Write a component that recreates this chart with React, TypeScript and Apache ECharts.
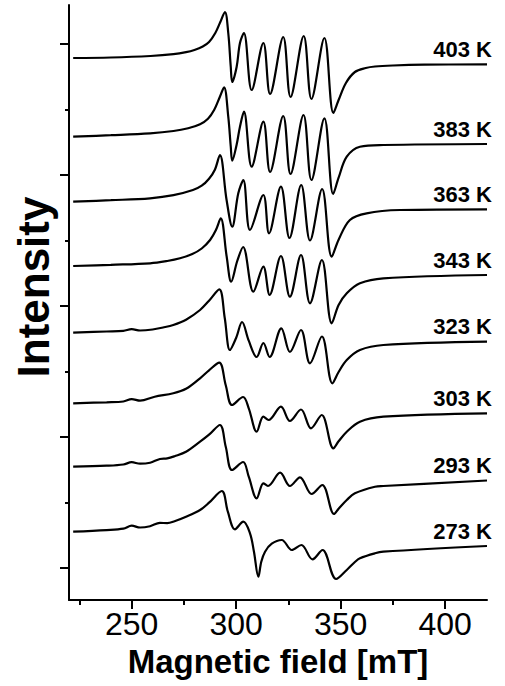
import React, { useEffect, useRef } from 'react';
import * as echarts from 'echarts';

const FONT = '"Liberation Sans", Arial, Helvetica, sans-serif';

// Temperatures, top trace first
const temperatures = ['403 K', '383 K', '363 K', '343 K', '323 K', '303 K', '293 K', '273 K'];

// Vertical stacking offset of each spectrum (same units as the y axis)
const offsets = [542, 463.3, 398.3, 334, 267.3, 196.7, 133.3, 68.3];

// Each spectrum: [magnetic field (mT), derivative intensity (a.u.)]
const spec403: [number, number][] = [
  [222, 0], [240, 0.5], [259, 2], [270, 3.8], [276, 5.8], [280, 8], [284, 11.5], [287, 16],
  [290, 25], [292.4, 36], [294.6, 46], [296.2, 25], [297.4, -9], [298.1, -24], [300.2, -9],
  [301.8, 15], [303.7, 25], [307.4, -32], [313, 15], [316.2, -36], [322.5, 21], [326, -39],
  [332.3, 22], [336, -41], [342.2, 20], [346.5, -55], [349, -42], [352.5, -25], [356.8, -14],
  [362, -10], [366.4, -8.5], [375, -7.5], [390, -6.7], [420, -6.3],
];
const spec383: [number, number][] = [
  [222, 0], [240, 1.5], [258.8, 3.4], [270, 5.7], [277, 8.5], [282.7, 12.5], [286.5, 18],
  [289.5, 27], [292.2, 40], [294.2, 49.4], [296.2, 20], [297.4, -10], [298.1, -24], [300.2, -8],
  [301.8, 10], [303.7, 25], [307.4, -30], [313, 15], [316.2, -35.3], [322.5, 20.7],
  [326, -37.3], [332.2, 21.7], [336, -43.3], [342.2, 18.4], [346.4, -57.3], [349, -41],
  [352.9, -20], [359.2, -10], [370.4, -8.3], [420, -7.3],
];
const spec363: [number, number][] = [
  [222, 0], [240, 1.5], [258.8, 3.4], [270, 6.5], [279.3, 11.7], [283.5, 16], [287, 23],
  [289.8, 32], [292.2, 46.7], [295.4, 1.7], [298.1, -25], [301, 8.4], [303.4, 21.7],
  [306.6, -28.3], [313, 6.7], [315.7, -31.6], [321.4, 15], [325.5, -36.3], [331.1, 16.7],
  [335.3, -38.8], [341.1, 12.7], [345.7, -55], [349, -38], [354.4, -18.3], [362.4, -11.6],
  [378.4, -8.3], [420, -7.6],
];
const spec343: [number, number][] = [
  [222, 0], [240, 1.2], [258.8, 2.7], [267, 5], [273.1, 7.7], [279, 12], [283.5, 17.5],
  [287.5, 26], [290.3, 36], [292.6, 47.7], [295.4, 10], [297.6, -15.7], [300.5, 5], [303.3, 19],
  [308.2, -25.7], [313, -0.7], [316, -29], [321.4, 10], [325.7, -30.7], [331, 11],
  [335.3, -37.3], [341, 6], [345.7, -57.3], [349, -39], [352.9, -27.3], [359.2, -17.3],
  [370.4, -12.3], [420, -9],
];
const spec323: [number, number][] = [
  [222, 0], [238, 1.2], [246, 1.8], [250, 3.5], [254, 2.2], [260, 3.2], [265, 5.2],
  [269.9, 7.7], [276, 13], [282.7, 22.7], [287, 32], [291.9, 43.4], [294.5, 15], [297, -17.3],
  [300, -5], [302.8, 10.7], [306, -8], [309.8, -24.3], [313, -10.3], [316, -24.3], [321.6, 4.4],
  [325.7, -19.3], [331, 2.7], [335.3, -30.6], [341, -3.8], [346, -50.6], [349, -39.3],
  [352.9, -27.3], [359.2, -17.3], [370.4, -12.3], [420, -9],
];
const spec303: [number, number][] = [
  [222, 0], [238, 1], [246, 1.8], [250, 4.2], [254, 2.6], [261, 6.6], [269.9, 10],
  [276, 14.5], [282.7, 25], [287, 33], [291.9, 40.6], [295, 18], [298, -1.7], [303.3, 6.3],
  [306, -5], [309.8, -28.4], [313, -13.4], [315.5, -16.7], [321.4, -3.4], [325.7, -17.7],
  [331, -6.2], [335.8, -25], [340.9, -11.7], [346.5, -45], [349, -38], [352.9, -28.4],
  [359.2, -18.4], [370.4, -13.4], [420, -10],
];
const spec293: [number, number][] = [
  [222, 0], [238, 1], [246, 2.2], [250, 4.5], [254, 3], [258.8, 4], [263.5, 7.7], [267, 8.3],
  [270.5, 10.5], [276, 15], [282.7, 25], [287, 32], [292.2, 41.7], [295, 20], [298, -3.3],
  [303.3, 4.7], [306, -10], [309.8, -31.6], [313, -16.6], [315.2, -19.3], [321, -6],
  [325.7, -19.3], [330.5, -10.6], [336.1, -27.3], [341.2, -18.3], [346.8, -47.3], [349, -42],
  [352.9, -33.3], [356.8, -26.6], [366.4, -20], [370.4, -19.3], [420, -13.8],
];
const spec273: [number, number][] = [
  [222, 0], [238, 1.6], [246, 3], [250, 6], [254, 4.2], [258.8, 5.5], [263.5, 8.8],
  [267, 8.6], [270.5, 10.5], [276, 15], [282.7, 21.7], [287, 29], [293.1, 40.7], [296, 20],
  [299.4, 2.4], [303.4, 10], [306.6, -1.6], [308.5, -20], [310.6, -45], [312, -30],
  [313.8, -20], [317, -12], [321.8, -8.3], [326.6, -18.3], [331.2, -13.3], [336.5, -27.6],
  [341.3, -18.3], [347.8, -47.3], [352.9, -38.3], [356.8, -30.3], [359.2, -26.6],
  [366.4, -21.6], [370.4, -20], [420, -14.3],
];

const spectra = [spec403, spec383, spec363, spec343, spec323, spec303, spec293, spec273];

// Axis ranges and tick positions
const xRange = [220, 420];
const yRange = [0, 595];
const xMajorTicks = [250, 300, 350, 400];
const xMinorTicks = [225, 275, 325, 375];
const yMajorTicks = [32, 163, 294, 425, 556];
const yMinorTicks = [97.5, 228.5, 359.5, 490.5];

const AXIS_COLOR = '#000';

export default function App() {
  const ref = useRef<HTMLDivElement>(null);

  useEffect(() => {
    document.body.style.margin = '0';
    const chart = echarts.init(ref.current!, null, { renderer: 'svg' });

    const series = spectra.map((pts, i) => ({
      type: 'line',
      name: temperatures[i],
      xAxisIndex: 0,
      yAxisIndex: 0,
      data: pts.map(([b, v]) => [b, offsets[i] + v]),
      smooth: 0.35,
      symbol: 'none',
      silent: true,
      lineStyle: { color: '#000', width: 2.2 },
    }));

    const baseAxisX = {
      type: 'value',
      min: xRange[0],
      max: xRange[1],
      position: 'bottom',
      splitLine: { show: false },
    };
    const baseAxisY = {
      type: 'value',
      min: yRange[0],
      max: yRange[1],
      position: 'left',
      splitLine: { show: false },
      axisLabel: { show: false },
    };

    const staticGraphics = [
      {
        type: 'text',
        x: 33,
        y: 287,
        rotation: Math.PI / 2,
        style: {
          text: 'Intensity',
          fill: '#000',
          fontSize: 44,
          fontWeight: 'bold',
          fontFamily: FONT,
          align: 'center',
          verticalAlign: 'middle',
        },
      },
      {
        type: 'text',
        x: 278,
        y: 661,
        style: {
          text: 'Magnetic field [mT]',
          fill: '#000',
          fontSize: 33,
          fontWeight: 'bold',
          fontFamily: FONT,
          align: 'center',
          verticalAlign: 'middle',
        },
      },
    ];

    chart.setOption({
      animation: false,
      backgroundColor: '#fff',
      grid: { left: 69, right: 18, top: 5, bottom: 86 },
      xAxis: [
        {
          ...baseAxisX,
          axisLine: { show: true, lineStyle: { color: AXIS_COLOR, width: 2 } },
          axisTick: { show: true, customValues: xMajorTicks, length: 9, lineStyle: { color: AXIS_COLOR, width: 2 } },
          axisLabel: {
            show: true,
            customValues: xMajorTicks,
            margin: 8,
            color: '#000',
            fontSize: 32,
            fontFamily: FONT,
          },
        },
        {
          ...baseAxisX,
          axisLine: { show: false },
          axisTick: { show: true, customValues: xMinorTicks, length: 5, lineStyle: { color: AXIS_COLOR, width: 2 } },
          axisLabel: { show: false },
        },
      ],
      yAxis: [
        {
          ...baseAxisY,
          axisLine: { show: true, lineStyle: { color: AXIS_COLOR, width: 2 } },
          axisTick: { show: true, customValues: yMajorTicks, length: 9, lineStyle: { color: AXIS_COLOR, width: 2 } },
        },
        {
          ...baseAxisY,
          axisLine: { show: false },
          axisTick: { show: true, customValues: yMinorTicks, length: 4, lineStyle: { color: AXIS_COLOR, width: 2 } },
        },
      ],
      series,
      graphic: staticGraphics,
    });

    // Temperature labels sit just above the right end of each trace
    const labels = spectra.map((pts, i) => {
      const [b, v] = pts[pts.length - 1];
      const [px, py] = chart.convertToPixel({ seriesIndex: i }, [b, offsets[i] + v]) as number[];
      return {
        type: 'text',
        x: px + 5,
        y: py - 15,
        style: {
          text: temperatures[i],
          fill: '#000',
          fontSize: 22,
          fontWeight: 'bold',
          fontFamily: FONT,
          align: 'right',
          verticalAlign: 'middle',
        },
      };
    });
    chart.setOption({ graphic: [...staticGraphics, ...labels] });

    return () => chart.dispose();
  }, []);

  return (
    <div
      ref={ref}
      style={{ position: 'absolute', left: 0, top: 0, width: 505, height: 686, background: '#fff' }}
    />
  );
}
